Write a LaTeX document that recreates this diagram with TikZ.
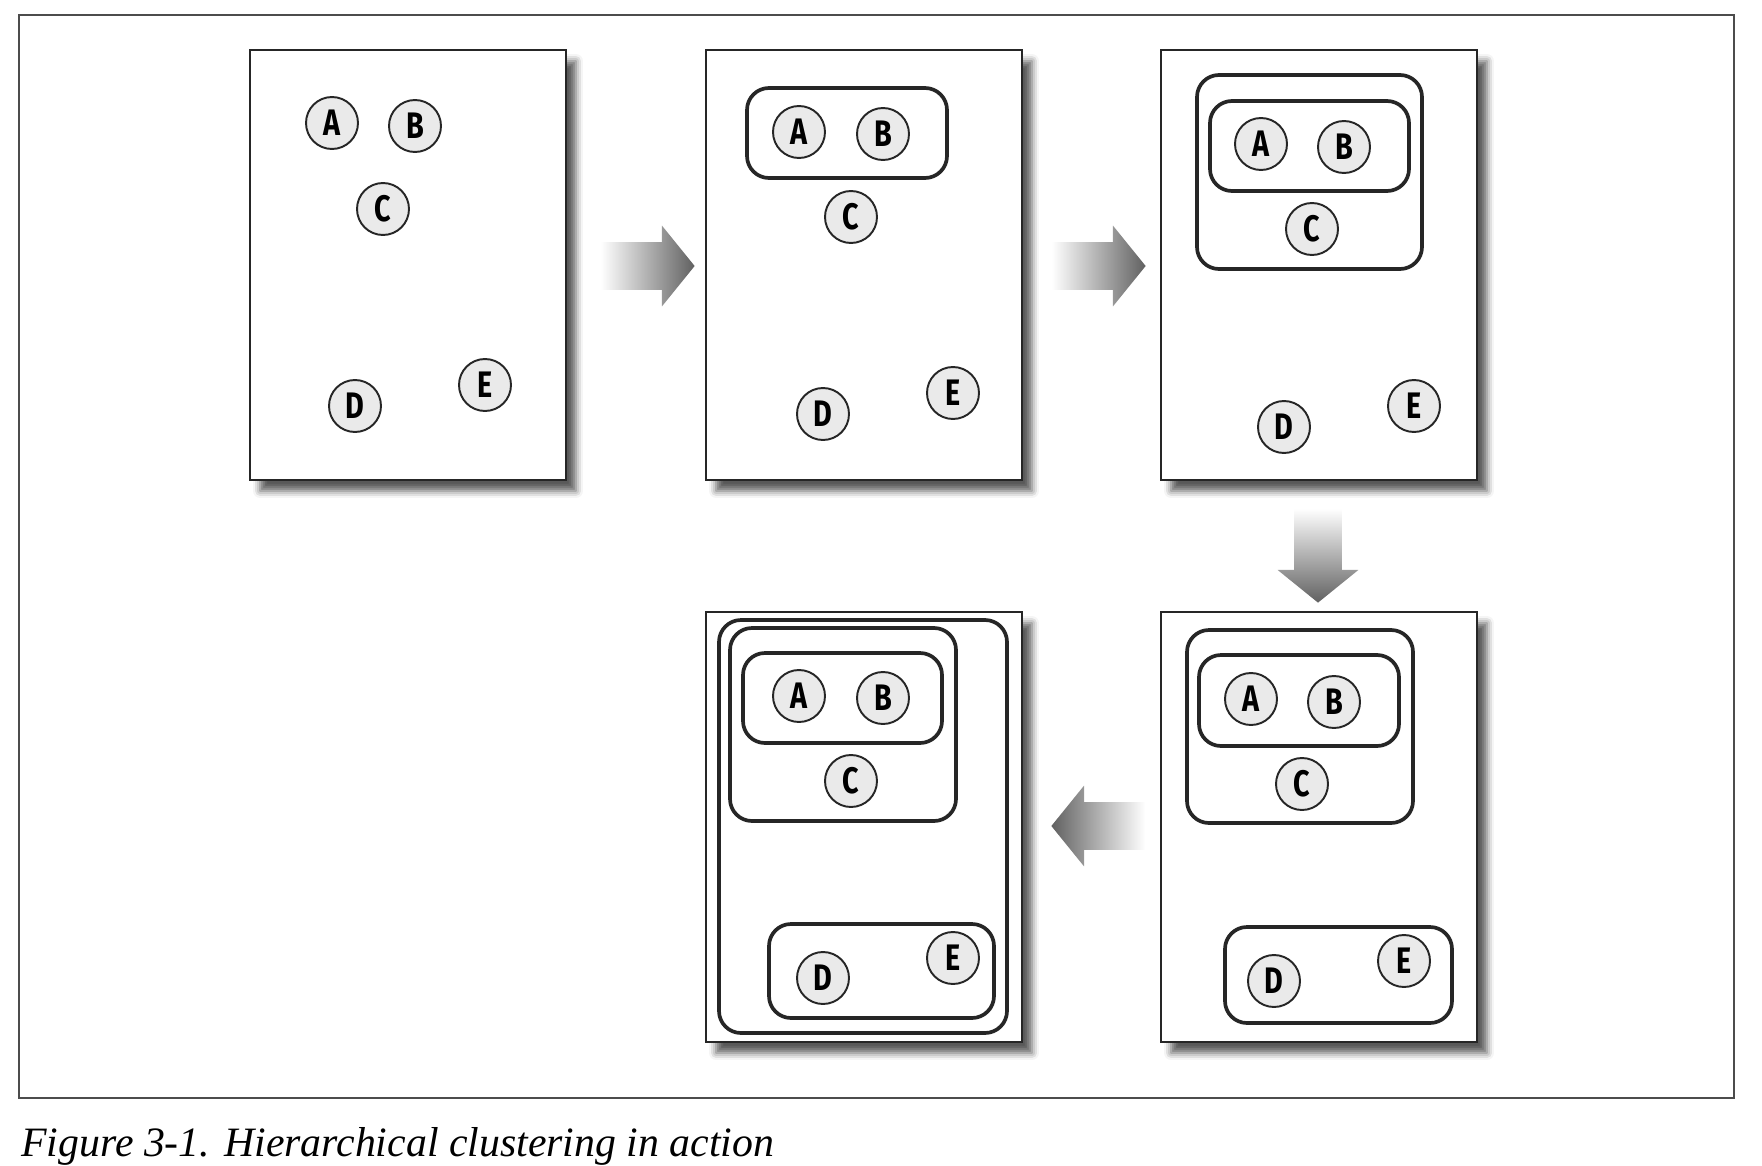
\documentclass[tikz,border=0pt]{standalone}
\usepackage{fontspec}
\setmainfont{Liberation Serif}
\newfontfamily\letterfont[FakeStretch=0.78]{Fira Sans}
\usetikzlibrary{shapes.arrows,shadows.blur}
\definecolor{linegray}{RGB}{38,38,38}
\definecolor{leafgray}{RGB}{234,234,234}
\tikzset{
  panel/.style={draw=linegray, line width=1.3pt, fill=white, minimum width=6.32cm, minimum height=8.6cm, inner sep=0pt, blur shadow={shadow xshift=0.2cm, shadow yshift=-0.22cm, shadow blur radius=0.14cm, shadow opacity=65}},
  leaf/.style={circle, draw=linegray, line width=1.1pt, fill=leafgray, minimum size=1.04cm, inner sep=0pt, font=\letterfont\bfseries\fontsize{21}{21}\selectfont},
  cluster/.style={draw=linegray, line width=2.1pt, rounded corners=0.44cm},
  bigarrow/.style={single arrow, draw=none, inner sep=0.47cm, minimum height=1.88cm, single arrow head extend=0.33cm, single arrow tip angle=102}
}
\begin{document}
\begin{tikzpicture}[x=0.02cm, y=-0.02cm]
  \useasboundingbox (0,0) rectangle (1762,1166);
  \draw[black!70, line width=0.9pt] (19,15) rectangle (1734,1098);

  \node[panel] (p1) at (408,265) {};
  \node[panel] (p2) at (864,265) {};
  \node[panel] (p3) at (1319,265) {};
  \node[panel] (p4) at (864,827) {};
  \node[panel] (p5) at (1319,827) {};

  \node[leaf] (a1) at (332,123) {A};
  \node[leaf] (b1) at (415,126) {B};
  \node[leaf] (c1) at (383,209) {C};
  \node[leaf] (d1) at (355,406) {D};
  \node[leaf] (e1) at (485,385) {E};

  \draw[cluster] (747,88) rectangle (947,178);
  \node[leaf] (a2) at (799,132) {A};
  \node[leaf] (b2) at (883,134) {B};
  \node[leaf] (c2) at (851,217) {C};
  \node[leaf] (d2) at (823,414) {D};
  \node[leaf] (e2) at (953,393) {E};

  \draw[cluster] (1197,75) rectangle (1422,269);
  \draw[cluster] (1210,101) rectangle (1409,191);
  \node[leaf] (a3) at (1261,144) {A};
  \node[leaf] (b3) at (1344,147) {B};
  \node[leaf] (c3) at (1312,229) {C};
  \node[leaf] (d3) at (1284,427) {D};
  \node[leaf] (e3) at (1414,406) {E};

  \draw[cluster] (1187,630) rectangle (1413,823);
  \draw[cluster] (1199,655) rectangle (1399,746);
  \draw[cluster] (1225,927) rectangle (1452,1023);
  \node[leaf] (a5) at (1251,699) {A};
  \node[leaf] (b5) at (1334,702) {B};
  \node[leaf] (c5) at (1302,784) {C};
  \node[leaf] (d5) at (1274,981) {D};
  \node[leaf] (e5) at (1404,961) {E};

  \draw[cluster] (719,620) rectangle (1007,1033);
  \draw[cluster] (730,628) rectangle (956,821);
  \draw[cluster] (743,653) rectangle (942,743);
  \draw[cluster] (769,924) rectangle (994,1018);
  \node[leaf] (a4) at (799,696) {A};
  \node[leaf] (b4) at (883,698) {B};
  \node[leaf] (c4) at (851,781) {C};
  \node[leaf] (d4) at (823,978) {D};
  \node[leaf] (e4) at (953,958) {E};

  \node[bigarrow, left color=white, right color=black!62] (ar12) at (638,266) {};
  \node[bigarrow, left color=white, right color=black!62] (ar23) at (1089,266) {};
  \node[bigarrow, shape border rotate=270, top color=white, bottom color=black!62] (ar35) at (1318,546) {};
  \node[bigarrow, shape border rotate=180, left color=black!62, right color=white] (ar54) at (1108,826) {};

  \node[anchor=base west, inner sep=0pt, font=\itshape\fontsize{23.8}{28}\selectfont] (caption) at (21,1156) {Figure 3-1. Hierarchical clustering in action};
\end{tikzpicture}
\end{document}
